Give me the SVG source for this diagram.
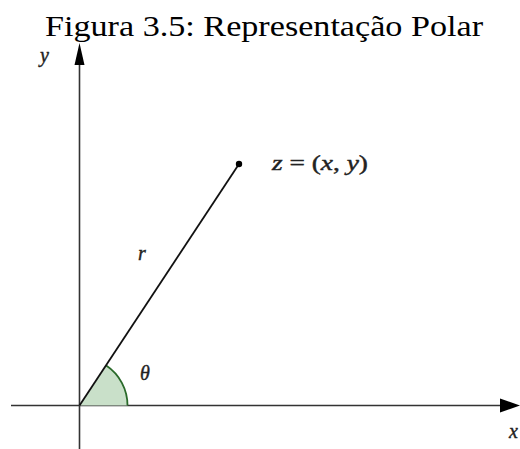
<svg xmlns="http://www.w3.org/2000/svg" width="520" height="449" viewBox="0 0 520 449">
<defs>
<style>
.ax{stroke:#333;stroke-width:1.6;fill:none}
.lbl{font-family:"Liberation Serif","DejaVu Serif",serif;font-style:italic;font-size:20px;fill:#222;stroke:#222;stroke-width:0.4}
.up{font-style:normal}
.title{font-family:"Liberation Serif","DejaVu Serif",serif;font-size:30px;fill:#000}
</style>
</defs>
<rect width="520" height="449" fill="#fff"/>
<text class="title" x="45" y="36" textLength="438" lengthAdjust="spacingAndGlyphs">Figura 3.5: Representação Polar</text>
<g id="connectors">
<line class="ax" x1="11" y1="405.5" x2="503" y2="405.5"/>
<polygon points="520,405.5 500,398.5 500,412.5" fill="#000"/>
<line class="ax" x1="79.5" y1="449" x2="79.5" y2="62"/>
<polygon points="79.5,43 74.5,65 84.5,65" fill="#000"/>
<path id="sector" d="M79.5,405.5 L106.2,365.5 A48,48 0 0 1 127.5,405.5 Z" fill="#c9e0c9"/>
<path d="M106.2,365.5 A48,48 0 0 1 127.5,405.5" stroke="#2a6a2a" stroke-width="1.8" fill="none"/>
<line x1="79.5" y1="405.5" x2="239" y2="164" stroke="#111" stroke-width="1.8"/>
</g>
<g id="point">
<circle cx="239" cy="164" r="3.2" fill="#000"/>
<text class="lbl" x="272" y="170" textLength="96" lengthAdjust="spacingAndGlyphs">z <tspan class="up">= (</tspan>x<tspan class="up">, </tspan>y<tspan class="up">)</tspan></text>
</g>
<g id="labels">
<text class="lbl" x="40" y="62">y</text>
<text class="lbl" x="509" y="438">x</text>
<text class="lbl" x="138" y="260">r</text>
<text class="lbl" x="140" y="380">θ</text>
</g>
</svg>
